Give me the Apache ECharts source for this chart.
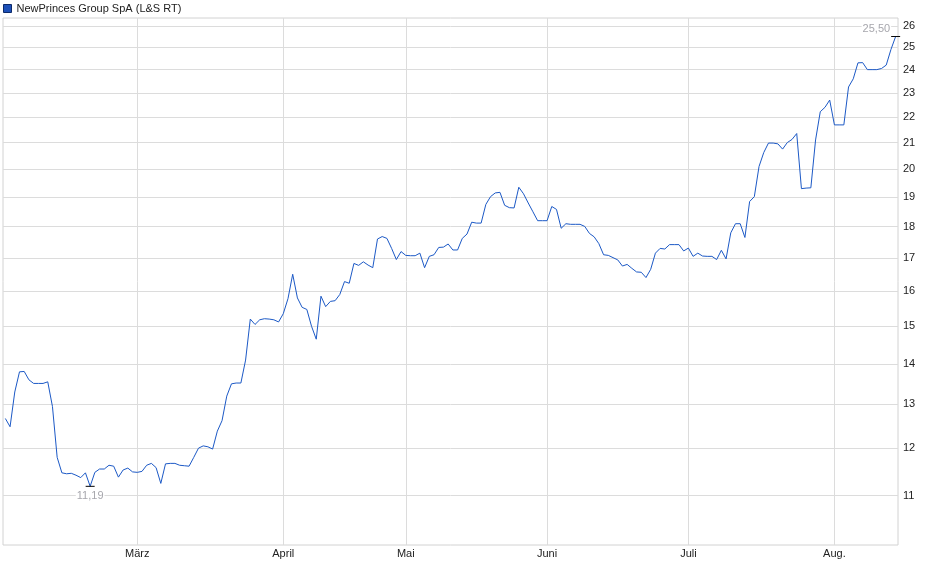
<!DOCTYPE html>
<html>
<head>
<meta charset="utf-8">
<script src="https://cdn.jsdelivr.net/npm/echarts@6/dist/echarts.min.js"></script>
<style>
html,body{margin:0;padding:0;background:#fff;}
#chart{width:940px;height:579px;}
</style>
</head>
<body>
<div id="chart"></div>
<script>
// ---- data ----
const seriesName = 'NewPrinces Group SpA (L&S RT)';
const firstDay = '2025-02-01';
const lastDay = '2025-08-14';
const closedDays = ['2025-04-18', '2025-04-19', '2025-04-20', '2025-04-21', '2025-05-01'];
const monthStartDates = ['2025-03-01', '2025-04-01', '2025-05-02', '2025-06-01', '2025-07-01', '2025-08-01'];
const monthLabels = ['März', 'April', 'Mai', 'Juni', 'Juli', 'Aug.'];
const yTickValues = [11, 12, 13, 14, 15, 16, 17, 18, 19, 20, 21, 22, 23, 24, 25, 26];
const prices = [
  12.67, 12.48, 13.30, 13.80, 13.81, 13.60, 13.51, 13.51, 13.51, 13.55,
  12.95, 11.80, 11.47, 11.45, 11.46, 11.42, 11.37, 11.47, 11.19, 11.48,
  11.55, 11.55, 11.63, 11.61, 11.38, 11.53, 11.57, 11.49, 11.48, 11.50,
  11.63, 11.67, 11.58, 11.25, 11.66, 11.67, 11.67, 11.63, 11.62, 11.61,
  11.80, 12.00, 12.05, 12.03, 11.98, 12.38, 12.62, 13.20, 13.50, 13.52,
  13.52, 14.10, 15.20, 15.05, 15.18, 15.21, 15.20, 15.18, 15.12, 15.35,
  15.78, 16.50, 15.80, 15.53, 15.47, 15.00, 14.65, 15.85, 15.55, 15.70,
  15.72, 15.90, 16.28, 16.23, 16.83, 16.77, 16.88, 16.78, 16.70, 17.60,
  17.68, 17.62, 17.30, 16.95, 17.20, 17.08, 17.07, 17.07, 17.15, 16.70,
  17.05, 17.10, 17.33, 17.34, 17.44, 17.25, 17.25, 17.62, 17.76, 18.15,
  18.12, 18.12, 18.75, 19.02, 19.15, 19.17, 18.72, 18.64, 18.63, 19.35,
  19.12, 18.80, 18.50, 18.20, 18.20, 18.20, 18.68, 18.58, 17.95, 18.10,
  18.08, 18.08, 18.08, 18.01, 17.78, 17.67, 17.45, 17.10, 17.08, 17.01,
  16.94, 16.75, 16.80, 16.68, 16.57, 16.56, 16.40, 16.65, 17.15, 17.30,
  17.28, 17.42, 17.42, 17.42, 17.22, 17.31, 17.05, 17.15, 17.06, 17.05,
  17.05, 16.95, 17.24, 16.97, 17.80, 18.10, 18.10, 17.65, 18.85, 19.02,
  20.10, 20.62, 20.98, 20.98, 20.95, 20.75, 21.00, 21.12, 21.35, 19.30,
  19.32, 19.33, 21.10, 22.22, 22.40, 22.70, 21.69, 21.69, 21.69, 23.25,
  23.60, 24.30, 24.31, 24.00, 24.00, 24.00, 24.05, 24.20, 24.90, 25.50
];

// ---- calendar categories (trading calendar) ----
function buildDates(from, to, closed) {
  const out = [];
  const d = new Date(from + 'T12:00:00Z');
  const end = new Date(to + 'T12:00:00Z');
  while (d <= end) {
    const s = d.toISOString().slice(0, 10);
    if (closed.indexOf(s) < 0) out.push(s);
    d.setUTCDate(d.getUTCDate() + 1);
  }
  return out;
}
const dates = buildDates(firstDay, lastDay, closedDays);

const isMonthStart = function (idx, val) {
  return monthStartDates.indexOf(val !== undefined ? val : dates[idx]) >= 0;
};
const fmt = v => v.toFixed(2).replace('.', ',');
const FONT = '"Liberation Sans", Arial, sans-serif';

const chart = echarts.init(document.getElementById('chart'), null, {renderer: 'canvas'});
chart.setOption({
  animation: false,
  backgroundColor: '#fff',
  textStyle: {fontFamily: FONT},
  legend: {
    left: 3, top: 3, padding: 0,
    itemWidth: 8, itemHeight: 8, itemGap: 10,
    textStyle: {fontSize: 11, color: '#222', fontFamily: FONT},
    data: [{name: seriesName, icon: 'rect', itemStyle: {color: '#1d50b8', borderColor: '#0c2a6a', borderWidth: 1}}]
  },
  grid: {
    left: 3, right: 42, top: 18, bottom: 34,
    show: true, borderColor: '#d2d2d2', borderWidth: 1,
    containLabel: false
  },
  xAxis: {
    type: 'category',
    data: dates,
    boundaryGap: true,
    axisLine: {show: false},
    axisTick: {show: false},
    axisLabel: {
      interval: isMonthStart,
      formatter: function (v) {
        const k = monthStartDates.indexOf(v);
        return k >= 0 ? monthLabels[k] : '';
      },
      color: '#222', fontSize: 11, fontFamily: FONT, margin: 3
    },
    splitLine: {
      show: true, interval: isMonthStart, alignWithLabel: true,
      lineStyle: {color: '#dcdcdc', width: 1}
    }
  },
  yAxis: {
    type: 'log',
    logBase: 10,
    min: 10.05,
    max: 26.38,
    position: 'right',
    axisLine: {show: false},
    axisTick: {show: false, customValues: yTickValues},
    axisLabel: {
      customValues: yTickValues,
      color: '#222', fontSize: 11, fontFamily: FONT, margin: 5
    },
    splitLine: {show: true, lineStyle: {color: '#dcdcdc', width: 1}}
  },
  series: [{
    name: seriesName,
    type: 'line',
    data: prices,
    symbol: 'none',
    showSymbol: false,
    lineStyle: {color: '#1c59c6', width: 1},
    itemStyle: {color: '#1d50b8'},
    markPoint: {
      symbol: 'rect',
      symbolSize: [9, 1],
      itemStyle: {color: '#000'},
      label: {
        fontSize: 11, fontFamily: FONT, color: '#a7a7ad',
        backgroundColor: '#fff', padding: [0, 1], lineHeight: 12,
        formatter: p => fmt(p.value)
      },
      data: [
        {type: 'min', label: {position: 'bottom', distance: 3}},
        {type: 'max', label: {position: 'left', distance: 0, offset: [0, -8]}}
      ]
    }
  }]
});
</script>
</body>
</html>
